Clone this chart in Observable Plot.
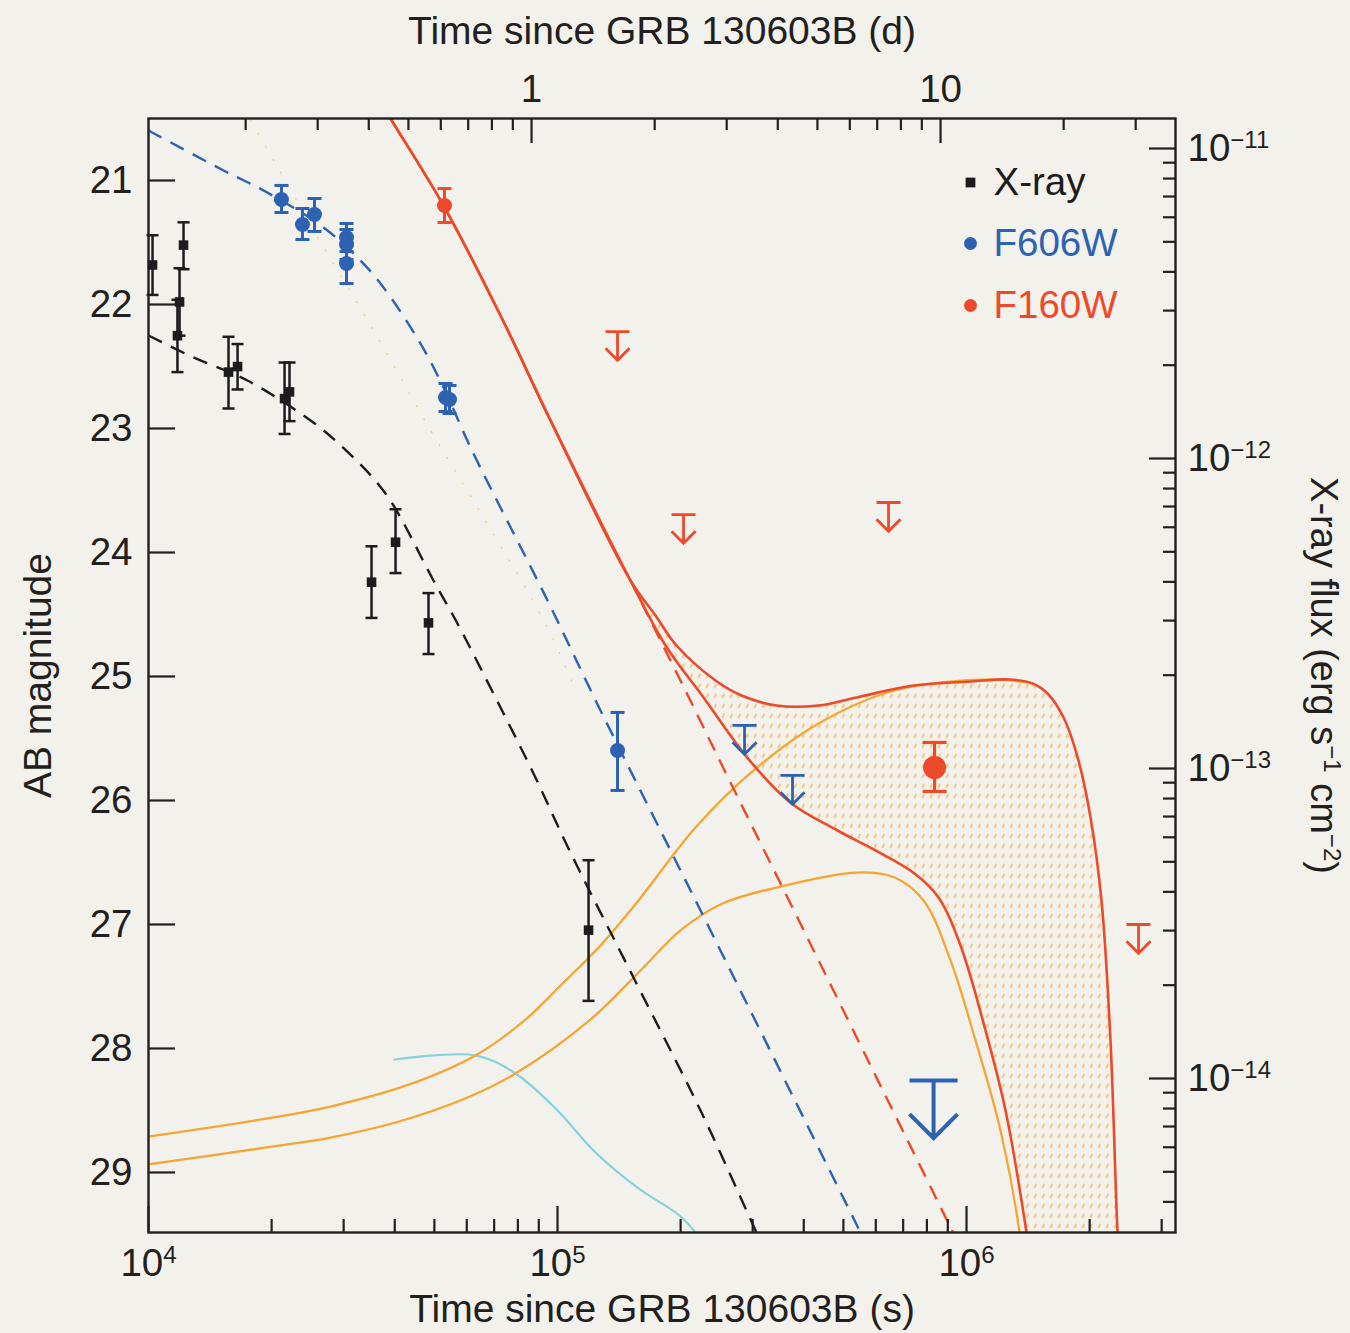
<!DOCTYPE html>
<html>
<head>
<meta charset="utf-8">
<script src="https://cdn.jsdelivr.net/npm/d3@7"></script>
<script src="https://cdn.jsdelivr.net/npm/@observablehq/plot@0.6"></script>
<style>
html, body { margin: 0; padding: 0; background: #f3f1ec; }
#chart { width: 1350px; height: 1333px; }
</style>
</head>
<body>
<div id="chart"></div>
<script>
// ---------------- DATA ----------------
// X-ray (Swift/XRT) detections: time (s), flux and error bounds (erg s^-1 cm^-2)
const xrayT       = [10230, 12180, 11910, 11770, 15690, 16510, 21510, 22120, 35100, 40180, 48370, 119100];
const xrayFlux    = [4.21e-12, 4.88e-12, 3.20e-12, 2.49e-12, 1.90e-12, 1.98e-12, 1.56e-12, 1.64e-12, 3.99e-13, 5.37e-13, 2.95e-13, 3.01e-14];
const xrayFluxHi  = [5.25e-12, 5.78e-12, 4.11e-12, 3.25e-12, 2.47e-12, 2.34e-12, 2.04e-12, 2.04e-12, 5.21e-13, 6.86e-13, 3.68e-13, 5.06e-14];
const xrayFluxLo  = [3.37e-12, 4.08e-12, 2.49e-12, 1.90e-12, 1.45e-12, 1.67e-12, 1.20e-12, 1.32e-12, 3.06e-13, 4.27e-13, 2.34e-13, 1.78e-14];

// F606W (optical) detections, AB mag
const f606T       = [21140, 23790, 25460, 30490, 30490, 30490, 53240, 54440, 140200];
const f606Mag     = [21.153, 21.355, 21.274, 21.460, 21.516, 21.669, 22.750, 22.766, 25.597];
const f606Bright  = [21.040, 21.226, 21.145, 21.347, 21.395, 21.508, 22.637, 22.653, 25.290];
const f606Faint   = [21.258, 21.476, 21.411, 21.573, 21.637, 21.831, 22.863, 22.879, 25.919];
// F606W upper limits
const f606LimT    = [286600, 375500];
const f606LimMag  = [25.395, 25.798];
const f606DeepLimT   = [830700];
const f606DeepLimMag = [28.258];

// F160W (near-IR) detections
const f160T       = [52930];
const f160Mag     = [21.202];
const f160Bright  = [21.065];
const f160Faint   = [21.339];
const f160LateT      = [835400];
const f160LateMag    = [25.734];
const f160LateBright = [25.532];
const f160LateFaint  = [25.927];
// F160W upper limits
const f160LimT    = [140200, 203300, 644600, 2634000];
const f160LimMag  = [22.218, 23.694, 23.597, 27.000];

// Model curves [time (s), AB mag]
const xrayModel = [[10000,22.250],[12880,22.427],[17460,22.613],[24900,22.935],[28980,23.113],[35490,23.403],[39720,23.621],[49750,24.226],[56940,24.573],[72550,25.250],[87360,25.782],[106400,26.387],[156900,27.492],[223700,28.500],[306600,29.484],[331800,29.726]];
const f606Model = [[10000,20.597],[15260,20.919],[19320,21.089],[26790,21.379],[32980,21.645],[37550,21.863],[46240,22.315],[52640,22.669],[61290,23.153],[94540,24.387],[127400,25.274],[217500,26.806],[550600,29.484],[599000,29.726]];
const f160Trunk = [[34900,20.234],[39050,20.500],[52640,21.202],[72550,22.089],[96130,22.935],[150800,24.226]];
const f160Afterglow = [[150800,24.226],[199800,25.032],[264800,25.855],[365000,26.782],[582500,28.137],[908700,29.427],[994500,29.694]];
const f160TotalBright = [[150800,24.226],[173600,24.508],[195400,24.750],[243400,25.032],[281800,25.153],[343100,25.234],[434600,25.234],[538300,25.169],[742000,25.073],[1028500,25.040],[1274000,25.024],[1450000,25.056],[1578000,25.137],[1727000,25.331],[1878000,25.677],[2010000,26.137],[2138000,26.806],[2249000,27.935],[2340000,29.484],[2367000,29.726]];
const f160TotalFaint = [[150800,24.226],[183700,24.750],[227500,25.169],[294800,25.677],[373400,26.024],[483700,26.242],[599100,26.403],[746300,26.589],[854100,26.782],[966700,27.169],[1113100,27.855],[1245500,28.500],[1401800,29.484],[1433800,29.726]];
const kilonovaBright = [[10000,28.710],[20210,28.556],[27860,28.468],[42730,28.298],[63020,28.056],[83070,27.774],[101700,27.492],[127400,27.169],[157800,26.806],[217500,26.218],[301500,25.758],[434600,25.379],[666800,25.113],[1144600,25.024],[1450000,25.056]];
const kilonovaFaint = [[10000,28.935],[20210,28.790],[27860,28.718],[40180,28.597],[60260,28.395],[78940,28.202],[119700,27.774],[159600,27.371],[199800,27.048],[253200,26.831],[351000,26.694],[538300,26.581],[666800,26.621],[785200,26.806],[913900,27.290],[1052000,27.935],[1210900,28.661],[1347900,29.484],[1370800,29.726]];
const kilonovaOptical = [[39950,28.089],[63020,28.056],[78940,28.202],[98880,28.484],[124600,28.847],[157800,29.129],[198700,29.347],[217500,29.484],[230100,29.589]];
const faintDotted = [[17760,20.516],[20440,20.863],[26040,21.468],[35290,22.194],[49470,23.040],[67060,23.758],[94540,24.605],[110700,25.113]];

// Axis ticks / labels
const magTicks   = [21, 22, 23, 24, 25, 26, 27, 28, 29];
const fluxMajor  = [1e-11, 1e-12, 1e-13, 1e-14];
const dayMajor   = [1, 10];
const dayMinor   = [0.2, 0.3, 0.4, 0.5, 0.6, 0.7, 0.8, 0.9, 2, 3, 4, 5, 6, 7, 8, 9, 20, 30];
const secMajor   = [1e4, 1e5, 1e6];
const secMinor   = [2e4,3e4,4e4,5e4,6e4,7e4,8e4,9e4,2e5,3e5,4e5,5e5,6e5,7e5,8e5,9e5,2e6,3e6];
const legendLabels = ["X-ray", "F606W", "F160W"];

// ---------------- LAYOUT / STYLE ----------------
const W = 1350, H = 1333, ML = 148, MR = 175, MT = 118, MB = 101;
const FW = W - ML - MR, FH = H - MT - MB;
const DAY = 86400;
const AX = "#231f20", BLUE = "#2d62b3", RED = "#ec4a2a", ORANGE = "#f6a532", CYAN = "#86d1dd", BLACK = "#1c1c1c";
const HATCH_KEY = "#fea012";
const FONT = "'Liberation Sans', Arial, Helvetica, sans-serif";

// X-ray flux <-> AB-magnitude axis mapping (2.5 mag per decade)
const M0 = -6.758;
const magOfFlux = f => M0 - 2.5 * Math.log10(f);
const fluxExpOfMag = m => Math.round((M0 - m) / 2.5);

const fluxMinor = [];
for (const k of [-12, -13, -14, -15]) for (let j = 2; j <= 9; j++) {
  const f = j * Math.pow(10, k);
  const m = magOfFlux(f);
  if (m >= 20.5 && m <= 29.484) fluxMinor.push(f);
}

const pts = arr => arr.map(([t, m]) => ({t, m}));
const xray = xrayT.map((t, i) => ({t, m: magOfFlux(xrayFlux[i]), hi: magOfFlux(xrayFluxHi[i]), lo: magOfFlux(xrayFluxLo[i])}));
const f606 = f606T.map((t, i) => ({t, m: f606Mag[i], hi: f606Bright[i], lo: f606Faint[i]}));
const f160 = f160T.map((t, i) => ({t, m: f160Mag[i], hi: f160Bright[i], lo: f160Faint[i]}));
const f160Late = f160LateT.map((t, i) => ({t, m: f160LateMag[i], hi: f160LateBright[i], lo: f160LateFaint[i]}));
const f606Lim = f606LimT.map((t, i) => ({t, m: f606LimMag[i]}));
const f606Deep = f606DeepLimT.map((t, i) => ({t, m: f606DeepLimMag[i]}));
const f160Lim = f160LimT.map((t, i) => ({t, m: f160LimMag[i]}));
const hatch = pts(f160TotalBright.concat(f160TotalFaint.slice().reverse()));

const capSymbol = { draw(ctx, size) { const r = Math.sqrt(size / Math.PI); ctx.moveTo(-r, 0); ctx.lineTo(r, 0); } };
const limitSymbol = { draw(ctx, size) {
  const r = Math.sqrt(size / Math.PI), L = 2.4 * r;
  ctx.moveTo(-r, 0); ctx.lineTo(r, 0);
  ctx.moveTo(0, 0); ctx.lineTo(0, L);
  ctx.moveTo(-r, L - r); ctx.lineTo(0, L); ctx.lineTo(r, L - r);
} };

function errorMarks(data, color, capR, dotR, sw, symbol = "circle") {
  return [
    Plot.ruleX(data, {x: "t", y1: "hi", y2: "lo", stroke: color, strokeWidth: sw}),
    Plot.dot(data, {x: "t", y: "hi", symbol: capSymbol, r: capR, stroke: color, strokeWidth: sw, fill: "none"}),
    Plot.dot(data, {x: "t", y: "lo", symbol: capSymbol, r: capR, stroke: color, strokeWidth: sw, fill: "none"}),
    Plot.dot(data, {x: "t", y: "m", symbol, r: dotR, fill: color, stroke: "none"})
  ];
}

const lineOpts = (stroke, extra = {}) => ({x: "t", y: "m", stroke, strokeWidth: 2.4, curve: "catmull-rom", clip: true, ...extra});

const chart = Plot.plot({
  width: W, height: H,
  marginLeft: ML, marginRight: MR, marginTop: MT, marginBottom: MB,
  style: {background: "#f3f1ec", fontFamily: FONT, fontSize: "38.5px", color: AX},
  x: {type: "log", domain: [1e4, 3.243e6]},
  y: {domain: [20.5, 29.484], reverse: true},
  marks: [
    // hatched kilonova region
    Plot.line(hatch, {x: "t", y: "m", fill: HATCH_KEY, stroke: "none", curve: "catmull-rom", clip: true}),
    // model curves
    Plot.line(pts(faintDotted), lineOpts(ORANGE, {strokeWidth: 1.3, strokeOpacity: 0.55, strokeDasharray: "1 14"})),
    Plot.line(pts(kilonovaOptical), lineOpts(CYAN, {strokeWidth: 2.2})),
    Plot.line(pts(kilonovaBright), lineOpts(ORANGE, {strokeWidth: 2.3})),
    Plot.line(pts(kilonovaFaint), lineOpts(ORANGE, {strokeWidth: 2.3})),
    Plot.line(pts(xrayModel), lineOpts(BLACK, {strokeDasharray: "15 10", strokeLinecap: "butt"})),
    Plot.line(pts(f606Model), lineOpts(BLUE, {strokeDasharray: "15 10", strokeLinecap: "butt"})),
    Plot.line(pts(f160Afterglow), lineOpts(RED, {strokeDasharray: "15 10", strokeLinecap: "butt"})),
    Plot.line(pts(f160Trunk.concat(f160TotalBright.slice(1))), lineOpts(RED, {strokeWidth: 2.6})),
    Plot.line(pts(f160Trunk.concat(f160TotalFaint.slice(1))), lineOpts(RED, {strokeWidth: 2.6})),
    // data
    ...errorMarks(xray, BLACK, 6, 5.4, 2.5, "square"),
    ...errorMarks(f606, BLUE, 7, 7.5, 3),
    ...errorMarks(f160, RED, 7, 7.5, 3),
    ...errorMarks(f160Late, RED, 12, 11.5, 3.2),
    Plot.dot(f606Lim, {x: "t", y: "m", symbol: limitSymbol, r: 12, stroke: BLUE, strokeWidth: 2.8, fill: "none"}),
    Plot.dot(f606Deep, {x: "t", y: "m", symbol: limitSymbol, r: 24, stroke: BLUE, strokeWidth: 4, fill: "none"}),
    Plot.dot(f160Lim, {x: "t", y: "m", symbol: limitSymbol, r: 12, stroke: RED, strokeWidth: 2.8, fill: "none"}),
    // inward ticks
    Plot.tickY(magTicks, {y: d => d, insetRight: FW - 27, stroke: AX, strokeWidth: 2.2}),
    Plot.tickY(fluxMajor.map(magOfFlux), {y: d => d, insetLeft: FW - 26, stroke: AX, strokeWidth: 2.2}),
    Plot.tickY(fluxMinor.map(magOfFlux), {y: d => d, insetLeft: FW - 12, stroke: AX, strokeWidth: 2.2}),
    Plot.tickX(dayMajor.map(d => d * DAY), {x: d => d, insetBottom: FH - 25, stroke: AX, strokeWidth: 2.2}),
    Plot.tickX(dayMinor.map(d => d * DAY), {x: d => d, insetBottom: FH - 12, stroke: AX, strokeWidth: 2.2}),
    Plot.tickX(secMajor, {x: d => d, insetTop: FH - 26, stroke: AX, strokeWidth: 2.2}),
    Plot.tickX(secMinor, {x: d => d, insetTop: FH - 13, stroke: AX, strokeWidth: 2.2}),
    Plot.frame({stroke: AX, strokeWidth: 2.4}),
    // tick labels
    Plot.axisY(magTicks, {anchor: "left", tickSize: 0, tickPadding: 16, label: null, tickFormat: d => String(d)}),
    Plot.axisY(fluxMajor.map(magOfFlux), {anchor: "right", tickSize: 0, tickPadding: 12, label: null, tickFormat: m => `10^{\u2212${-fluxExpOfMag(m)}}`}),
    Plot.text(dayMajor, {x: d => d * DAY, frameAnchor: "top", dy: -29, lineAnchor: "middle", textAnchor: "middle", text: d => String(d), fill: AX}),
    Plot.axisX(secMajor, {anchor: "bottom", tickSize: 0, tickPadding: 16, label: null, tickFormat: s => `10^{${Math.round(Math.log10(s))}}`}),
    // axis titles
    Plot.text(["Time since GRB 130603B (d)"], {text: d => d, frameAnchor: "top", dy: -87, lineAnchor: "middle", textAnchor: "middle", fontSize: 39, fill: AX}),
    Plot.text(["Time since GRB 130603B (s)"], {text: d => d, frameAnchor: "bottom", dy: 77, lineAnchor: "middle", textAnchor: "middle", fontSize: 39, fill: AX}),
    Plot.text(["AB magnitude"], {text: d => d, frameAnchor: "left", dx: -110, rotate: -90, lineAnchor: "middle", textAnchor: "middle", fontSize: 39, fill: AX}),
    Plot.text(["X-ray flux (erg s^{\u22121} cm^{\u22122})"], {text: d => d, frameAnchor: "right", dx: 148, rotate: 90, lineAnchor: "middle", textAnchor: "middle", fontSize: 38, fill: AX}),
    // legend
    Plot.dot([0], {frameAnchor: "top-right", dx: -205, dy: 64, symbol: "square", r: 5.5, fill: BLACK}),
    Plot.dot([0], {frameAnchor: "top-right", dx: -205, dy: 125, r: 6.5, fill: BLUE}),
    Plot.dot([0], {frameAnchor: "top-right", dx: -205, dy: 187, r: 6.5, fill: RED}),
    Plot.text([legendLabels[0]], {text: d => d, frameAnchor: "top-right", dx: -182, dy: 64, textAnchor: "start", lineAnchor: "middle", fill: BLACK}),
    Plot.text([legendLabels[1]], {text: d => d, frameAnchor: "top-right", dx: -182, dy: 125, textAnchor: "start", lineAnchor: "middle", fill: BLUE}),
    Plot.text([legendLabels[2]], {text: d => d, frameAnchor: "top-right", dx: -182, dy: 187, textAnchor: "start", lineAnchor: "middle", fill: RED})
  ]
});

// ---- post-processing: hatch pattern + superscripts ----
const NS = "http://www.w3.org/2000/svg";
const defs = document.createElementNS(NS, "defs");
const pat = document.createElementNS(NS, "pattern");
pat.setAttribute("id", "knHatch");
pat.setAttribute("patternUnits", "userSpaceOnUse");
pat.setAttribute("width", "8");
pat.setAttribute("height", "10");
const pp = document.createElementNS(NS, "path");
pp.setAttribute("d", "M2,7 L3.6,3.8");
pp.setAttribute("stroke", ORANGE);
pp.setAttribute("stroke-width", "1.2");
pp.setAttribute("stroke-linecap", "round");
pat.appendChild(pp);
defs.appendChild(pat);
chart.insertBefore(defs, chart.firstChild);
chart.querySelectorAll(`[fill="${HATCH_KEY}"]`).forEach(el => el.setAttribute("fill", "url(#knHatch)"));

function supify(el, supSize, shift) {
  const s = el.textContent;
  if (!s.includes("^{")) return;
  el.textContent = "";
  const parts = s.split(/(\^\{[^}]*\})/);
  let raised = false;
  for (const p of parts) {
    if (!p) continue;
    const ts = document.createElementNS(NS, "tspan");
    if (p.startsWith("^{")) {
      ts.textContent = p.slice(2, -1);
      ts.setAttribute("font-size", supSize);
      ts.setAttribute("dy", -shift);
      raised = true;
    } else {
      ts.textContent = p;
      if (raised) { ts.setAttribute("dy", shift); raised = false; }
    }
    el.appendChild(ts);
  }
}
chart.querySelectorAll("text").forEach(el => supify(el, 24, 13));

document.getElementById("chart").appendChild(chart);
</script>
</body>
</html>
